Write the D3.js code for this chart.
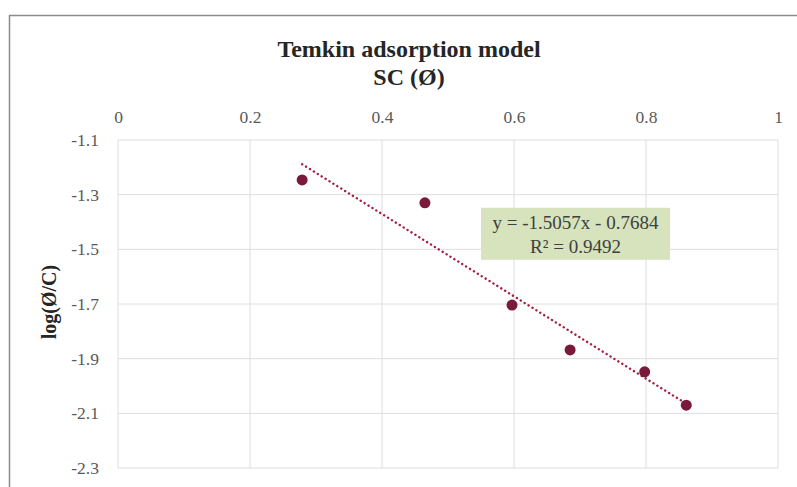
<!DOCTYPE html>
<html>
<head>
<meta charset="utf-8">
<script src="https://cdn.jsdelivr.net/npm/d3@7"></script>
<style>
  body { margin: 0; background: #fff; }
  svg { display: block; font-family: "Liberation Serif", "Times New Roman", serif; }
</style>
</head>
<body>
<svg id="chart" width="797" height="487"></svg>
<script>
// scatter points
var xValues = [0.279, 0.465, 0.597, 0.685, 0.798, 0.861]
var yValues = [-1.246, -1.330, -1.704, -1.868, -1.948, -2.070]
var xTicks = [0, 0.2, 0.4, 0.6, 0.8, 1]
var yTicks = [-1.1, -1.3, -1.5, -1.7, -1.9, -2.1, -2.3]
var slope = -1.5057
var intercept = -0.7684
var eqLines = ["y = -1.5057x - 0.7684", "R² = 0.9492"]

var dimensions = ({
    width: 797,
    height: 487,
    margin: { top: 140, right: 19, bottom: 19, left: 118 }
})
dimensions.boundedWidth = dimensions.width - dimensions.margin.left - dimensions.margin.right
dimensions.boundedHeight = dimensions.height - dimensions.margin.top - dimensions.margin.bottom

var svg = d3.select("#chart")

// outer chart frame (right/bottom edges run off the picture)
svg.append("path")
    .attr("d", "M9.5,487 L9.5,15.5 L797,15.5")
    .attr("fill", "none")
    .attr("stroke", "#8c8c8c")
    .attr("stroke-width", 1.5)

var xScale = d3.scaleLinear().domain([0, 1]).range([0, dimensions.boundedWidth])
var yScale = d3.scaleLinear().domain([-1.1, -2.3]).range([0, dimensions.boundedHeight])

var bounds = svg.append("g")
    .attr("transform", "translate(" + dimensions.margin.left + "," + dimensions.margin.top + ")")

// gridlines
bounds.append("g")
    .selectAll("line")
    .data(xTicks)
    .enter()
    .append("line")
    .attr("x1", d => xScale(d)).attr("x2", d => xScale(d))
    .attr("y1", 0).attr("y2", dimensions.boundedHeight)
    .attr("stroke", "#dedede")
    .attr("stroke-width", 1)

bounds.append("g")
    .selectAll("line")
    .data(yTicks)
    .enter()
    .append("line")
    .attr("x1", 0).attr("x2", dimensions.boundedWidth)
    .attr("y1", d => yScale(d)).attr("y2", d => yScale(d))
    .attr("stroke", "#dedede")
    .attr("stroke-width", 1)

// axes (labels only, Excel-style)
var xAxis = d3.axisTop(xScale).tickValues(xTicks).tickSize(0).tickPadding(17)
    .tickFormat(d => d3.format("")(d))
var gx = bounds.append("g").call(xAxis)
gx.select(".domain").remove()
gx.selectAll("text")
    .attr("font-family", "Liberation Serif, serif")
    .attr("font-size", 17.5)
    .attr("fill", "#595959")

var yAxis = d3.axisLeft(yScale).tickValues(yTicks).tickSize(0).tickPadding(19)
    .tickFormat(d => d3.format(".1f")(d).replace("−", "-"))
var gy = bounds.append("g").call(yAxis)
gy.select(".domain").remove()
gy.selectAll("text")
    .attr("font-family", "Liberation Serif, serif")
    .attr("font-size", 17.5)
    .attr("fill", "#595959")

// trendline
var xMin = d3.min(xValues), xMax = d3.max(xValues)
bounds.append("line")
    .attr("x1", xScale(xMin)).attr("y1", yScale(slope * xMin + intercept))
    .attr("x2", xScale(xMax)).attr("y2", yScale(slope * xMax + intercept))
    .attr("stroke", "#a3213f")
    .attr("stroke-width", 2.4)
    .attr("stroke-dasharray", "0.1 4.5")
    .attr("stroke-linecap", "round")

// points
bounds.selectAll("circle")
    .data(xValues)
    .enter()
    .append("circle")
    .attr("cx", d => xScale(d))
    .attr("cy", (d, i) => yScale(yValues[i]))
    .attr("r", 5.5)
    .attr("fill", "#7a1a3a")

// equation label
var box = bounds.append("g").attr("transform", "translate(" + xScale(0.55) + "," + yScale(-1.348) + ")")
box.append("rect")
    .attr("x", 0).attr("y", 0)
    .attr("width", 189).attr("height", 52)
    .attr("fill", "#d6e3bc")
box.selectAll("text")
    .data(eqLines)
    .enter()
    .append("text")
    .attr("x", 94.5)
    .attr("y", (d, i) => 21 + i * 24)
    .attr("text-anchor", "middle")
    .attr("font-size", 19)
    .attr("fill", "#404040")
    .text(d => d)

// title
svg.append("text")
    .attr("x", 409).attr("y", 57)
    .attr("text-anchor", "middle")
    .attr("font-size", 24)
    .attr("font-weight", "bold")
    .attr("fill", "#262626")
    .text("Temkin adsorption model")
svg.append("text")
    .attr("x", 409).attr("y", 85)
    .attr("text-anchor", "middle")
    .attr("font-size", 24)
    .attr("font-weight", "bold")
    .attr("fill", "#262626")
    .text("SC (Ø)")

// y axis title
svg.append("text")
    .attr("transform", "translate(56,302) rotate(-90)")
    .attr("text-anchor", "middle")
    .attr("font-size", 20)
    .attr("font-weight", "bold")
    .attr("fill", "#262626")
    .text("log(Ø/C)")
</script>
</body>
</html>
